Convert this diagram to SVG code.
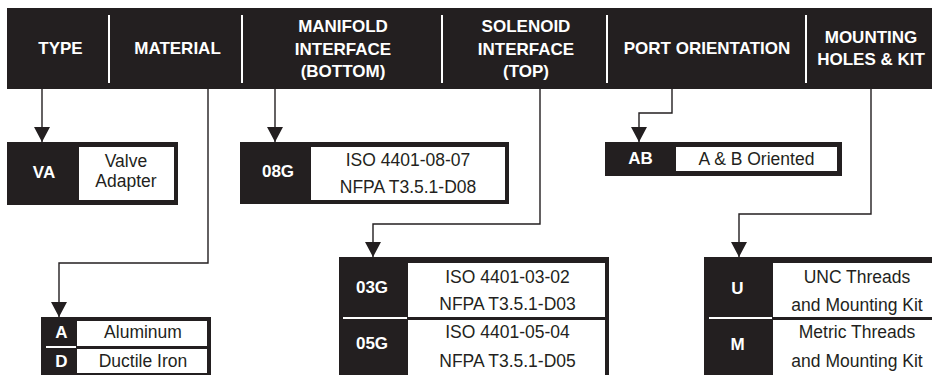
<svg xmlns="http://www.w3.org/2000/svg" width="932" height="375" viewBox="0 0 932 375">
<style>
.blk{fill:#231f20}
.wht{fill:#ffffff}
.hd{font-family:"Liberation Sans",Arial,sans-serif;font-weight:bold;font-size:17px;fill:#ffffff;text-anchor:middle}
.cd{font-family:"Liberation Sans",Arial,sans-serif;font-weight:bold;font-size:17px;fill:#ffffff;text-anchor:middle}
.ds{font-family:"Liberation Sans",Arial,sans-serif;font-size:17.5px;fill:#231f20;text-anchor:middle}
.ln{fill:none;stroke:#231f20;stroke-width:1.4}
</style>
<defs>
<marker id="arr" viewBox="0 0 15 16" refX="15" refY="8" markerWidth="15" markerHeight="16" markerUnits="userSpaceOnUse" orient="auto">
<path d="M0,0 L15,8 L0,16 z" fill="#231f20"/>
</marker>
</defs>
<rect width="932" height="375" fill="#ffffff"/>
<g id="header">
<rect class="blk" x="7" y="8" width="925" height="81"/>
<g fill="#ffffff">
<rect x="108" y="15" width="2" height="68"/>
<rect x="241" y="15" width="2" height="68"/>
<rect x="441" y="15" width="2" height="68"/>
<rect x="606" y="15" width="2" height="68"/>
<rect x="805" y="15" width="2" height="68"/>
</g>
<text class="hd" x="60.5" y="54">TYPE</text>
<text class="hd" x="177.5" y="54">MATERIAL</text>
<text class="hd" x="343" y="32">MANIFOLD</text>
<text class="hd" x="343" y="55">INTERFACE</text>
<text class="hd" x="343" y="77">(BOTTOM)</text>
<text class="hd" x="526" y="32">SOLENOID</text>
<text class="hd" x="526" y="55">INTERFACE</text>
<text class="hd" x="526" y="77">(TOP)</text>
<text class="hd" x="707" y="54">PORT ORIENTATION</text>
<text class="hd" x="871" y="43">MOUNTING</text>
<text class="hd" x="871" y="65">HOLES &amp; KIT</text>
</g>
<g id="connectors">
<path class="ln" d="M42,89 V142" marker-end="url(#arr)"/>
<path class="ln" d="M208,89 V263 H59 V317" marker-end="url(#arr)"/>
<path class="ln" d="M275,89 V142" marker-end="url(#arr)"/>
<path class="ln" d="M540,89 V224 H373 V257" marker-end="url(#arr)"/>
<path class="ln" d="M672,89 V113 H639 V142" marker-end="url(#arr)"/>
<path class="ln" d="M871,89 V214 H739 V257" marker-end="url(#arr)"/>
</g>
<g id="node-va">
<rect class="blk" x="7" y="142" width="171" height="63"/>
<rect class="wht" x="79" y="147" width="95" height="53"/>
<text class="cd" x="44" y="178">VA</text>
<text class="ds" x="126" y="167">Valve</text>
<text class="ds" x="126" y="187">Adapter</text>
</g>
<g id="node-08g">
<rect class="blk" x="240" y="142" width="269" height="62"/>
<rect class="wht" x="311" y="147" width="194" height="53"/>
<text class="cd" x="278" y="177">08G</text>
<text class="ds" x="408" y="166">ISO 4401-08-07</text>
<text class="ds" x="408" y="193">NFPA T3.5.1-D08</text>
</g>
<g id="node-ab">
<rect class="blk" x="605" y="142" width="237" height="34"/>
<rect class="wht" x="676" y="147" width="161" height="24"/>
<text class="cd" x="640.5" y="164">AB</text>
<text class="ds" x="756.5" y="165">A &amp; B Oriented</text>
</g>
<g id="node-material">
<rect class="blk" x="41" y="317" width="170" height="58"/>
<rect class="wht" x="77" y="321" width="130" height="25"/>
<rect class="wht" x="77" y="349" width="130" height="24"/>
<rect class="wht" x="46" y="346" width="30" height="2"/>
<text class="cd" x="61.5" y="338">A</text>
<text class="ds" x="143" y="338">Aluminum</text>
<text class="cd" x="61.5" y="367">D</text>
<text class="ds" x="143" y="367">Ductile Iron</text>
</g>
<g id="node-solenoid">
<rect class="blk" x="339" y="257" width="270" height="118"/>
<rect class="wht" x="408" y="263" width="197" height="54"/>
<rect class="wht" x="408" y="320" width="197" height="55"/>
<rect class="wht" x="343" y="317" width="64" height="2"/>
<text class="cd" x="372" y="293">03G</text>
<text class="ds" x="507.5" y="283">ISO 4401-03-02</text>
<text class="ds" x="507.5" y="310">NFPA T3.5.1-D03</text>
<text class="cd" x="372" y="349">05G</text>
<text class="ds" x="507.5" y="338">ISO 4401-05-04</text>
<text class="ds" x="507.5" y="367">NFPA T3.5.1-D05</text>
</g>
<g id="node-mounting">
<rect class="blk" x="704" y="257" width="230" height="118"/>
<rect class="wht" x="773" y="263" width="161" height="54"/>
<rect class="wht" x="773" y="320" width="161" height="55"/>
<rect class="wht" x="709" y="317" width="63" height="2"/>
<text class="cd" x="737.5" y="294">U</text>
<text class="ds" x="857" y="283">UNC Threads</text>
<text class="ds" x="857" y="311">and Mounting Kit</text>
<text class="cd" x="737.5" y="350">M</text>
<text class="ds" x="857" y="338">Metric Threads</text>
<text class="ds" x="857" y="367">and Mounting Kit</text>
</g>
</svg>
